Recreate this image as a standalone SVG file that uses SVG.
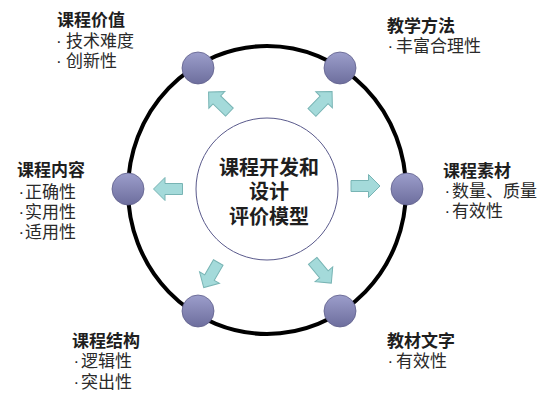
<svg xmlns="http://www.w3.org/2000/svg" width="550" height="404" viewBox="0 0 550 404">
<defs>
<linearGradient id="ng" x1="0" y1="0" x2="0" y2="1">
<stop offset="0" stop-color="#9c9ecb"/>
<stop offset="1" stop-color="#6d6e9d"/>
</linearGradient>
<path id="arr" d="M-14.5,-5.5 L3,-5.5 L3,-11.5 L14.5,0 L3,11.5 L3,5.5 L-14.5,5.5 Z"/>
</defs>
<style>
.t{font-family:"Noto Sans CJK SC","Noto Sans",sans-serif;font-size:17px;font-weight:bold;fill:#1e1e1e}
.b{font-family:"Noto Sans CJK SC","Noto Sans",sans-serif;font-size:17px;fill:#2a2a2a}
.d{font-family:"Liberation Sans",sans-serif}
.c{font-family:"Noto Sans CJK SC","Noto Sans",sans-serif;font-size:20px;font-weight:bold;fill:#1e1e1e;text-anchor:middle}
.n{fill:url(#ng);stroke:#5f608c;stroke-width:0.8}
.a{fill:#a4dada;stroke:#78b4b4;stroke-width:1}
</style>
<rect width="550" height="404" fill="#ffffff"/>
<g id="ring">
<ellipse cx="267" cy="190" rx="139" ry="144" fill="none" stroke="#000" stroke-width="4"/>
</g>
<g id="connectors">
<use href="#arr" class="a" transform="translate(219,102) rotate(-136)"/>
<use href="#arr" class="a" transform="translate(322,102) rotate(-46)"/>
<use href="#arr" class="a" transform="translate(168,189) rotate(180)"/>
<use href="#arr" class="a" transform="translate(365.5,186)"/>
<use href="#arr" class="a" transform="translate(211,275) rotate(120)"/>
<use href="#arr" class="a" transform="translate(322,272) rotate(50)"/>
</g>
<g id="center">
<circle cx="267" cy="189" r="71" fill="#fff" stroke="#5a5a8c" stroke-width="1"/>
<text class="c" x="269" y="175">课程开发和</text>
<text class="c" x="269" y="199">设计</text>
<text class="c" x="269" y="224">评价模型</text>
</g>
<g id="node-value">
<circle class="n" cx="198" cy="68" r="16"/>
<text class="t" x="57" y="26">课程价值</text>
<text class="b" y="47"><tspan class="d" x="56">·</tspan><tspan x="66">技术难度</tspan></text>
<text class="b" y="67"><tspan class="d" x="56">·</tspan><tspan x="66">创新性</tspan></text>
</g>
<g id="node-method">
<circle class="n" cx="340" cy="68" r="16"/>
<text class="t" x="387" y="32">教学方法</text>
<text class="b" y="52"><tspan class="d" x="387.5">·</tspan><tspan x="396">丰富合理性</tspan></text>
</g>
<g id="node-content">
<circle class="n" cx="128" cy="189" r="16"/>
<text class="t" x="17" y="176">课程内容</text>
<text class="b" y="198"><tspan class="d" x="18.5">·</tspan><tspan x="25">正确性</tspan></text>
<text class="b" y="218"><tspan class="d" x="18.5">·</tspan><tspan x="25">实用性</tspan></text>
<text class="b" y="238"><tspan class="d" x="18.5">·</tspan><tspan x="25">适用性</tspan></text>
</g>
<g id="node-material">
<circle class="n" cx="407" cy="189" r="16"/>
<text class="t" x="443" y="177">课程素材</text>
<text class="b" y="197"><tspan class="d" x="444.5">·</tspan><tspan x="452">数量、质量</tspan></text>
<text class="b" y="217"><tspan class="d" x="444.5">·</tspan><tspan x="452">有效性</tspan></text>
</g>
<g id="node-structure">
<circle class="n" cx="198" cy="311" r="16"/>
<text class="t" x="72" y="347">课程结构</text>
<text class="b" y="367"><tspan class="d" x="73.5">·</tspan><tspan x="81">逻辑性</tspan></text>
<text class="b" y="388"><tspan class="d" x="73.5">·</tspan><tspan x="81">突出性</tspan></text>
</g>
<g id="node-text">
<circle class="n" cx="340" cy="311" r="16"/>
<text class="t" x="387" y="347">教材文字</text>
<text class="b" y="367"><tspan class="d" x="387.5">·</tspan><tspan x="396">有效性</tspan></text>
</g>
</svg>
